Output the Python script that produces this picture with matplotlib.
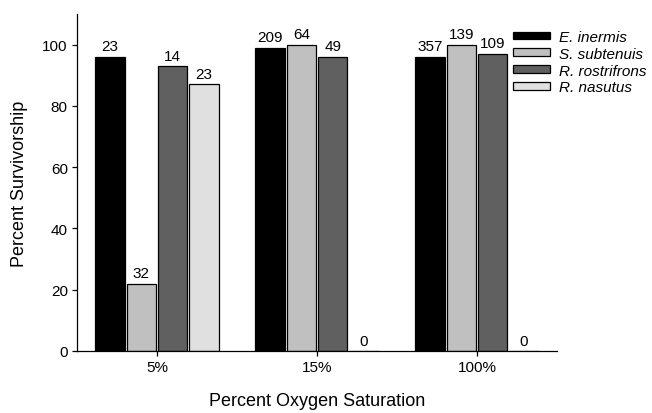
import matplotlib
matplotlib.use("Agg")
import matplotlib.pyplot as plt
import numpy as np

plt.rcParams.update({
    "font.family": ["Liberation Sans", "DejaVu Sans"],
    "font.size": 11,
})

# data
groups = ["5%", "15%", "100%"]
species = ["E. inermis", "S. subtenuis", "R. rostrifrons", "R. nasutus"]
e_inermis = [96, 99, 96]
s_subtenuis = [22, 100, 100]
r_rostrifrons = [93, 96, 97]
r_nasutus = [87, 0, 0]
n_e_inermis = [23, 209, 357]
n_s_subtenuis = [32, 64, 139]
n_r_rostrifrons = [14, 49, 109]
n_r_nasutus = [23, 0, 0]

series = [e_inermis, s_subtenuis, r_rostrifrons, r_nasutus]
counts = [n_e_inermis, n_s_subtenuis, n_r_rostrifrons, n_r_nasutus]
colors = ["#000000", "#c0c0c0", "#606060", "#e0e0e0"]

fig = plt.figure(figsize=(6.52, 4.14), dpi=100)
ax = fig.add_axes([77 / 652, 62 / 414, 480 / 652, 337 / 414])

x = np.arange(len(groups))
slot = 0.196
width = 0.182
for i, (vals, ns, col, name) in enumerate(zip(series, counts, colors, species)):
    pos = x + (i - 1.5) * slot
    bars = ax.bar(pos, vals, width, color=col, edgecolor="black",
                  linewidth=0.9, label=name, zorder=2)
    for b, n in zip(bars, ns):
        ax.annotate(str(n), (b.get_x() + b.get_width() / 2, b.get_height()),
                    xytext=(0, 2.5), textcoords="offset points",
                    ha="center", va="bottom", fontsize=11)

ax.set_xlim(-0.5, 2.5)
ax.set_ylim(0, 110)
ax.set_xticks(x)
ax.set_xticklabels(groups)
ax.set_yticks(np.arange(0, 101, 20))
ax.tick_params(direction="out", length=3.6, width=0.9, pad=3, labelsize=11)

for s in ["top", "right"]:
    ax.spines[s].set_visible(False)
for s in ["left", "bottom"]:
    ax.spines[s].set_linewidth(0.9)

ax.set_xlabel("Percent Oxygen Saturation", fontsize=13, labelpad=13)
ax.set_ylabel("Percent Survivorship", fontsize=13, labelpad=10)

leg = fig.legend(loc="upper left", bbox_to_anchor=(513 / 652, (414 - 31) / 414),
                 frameon=False, fontsize=11, borderpad=0, borderaxespad=0,
                 handlelength=2.4, handleheight=0.4, handletextpad=0.6,
                 labelspacing=0.18)
for t in leg.get_texts():
    t.set_fontstyle("italic")

fig.savefig("out.png", dpi=100, facecolor="white")
